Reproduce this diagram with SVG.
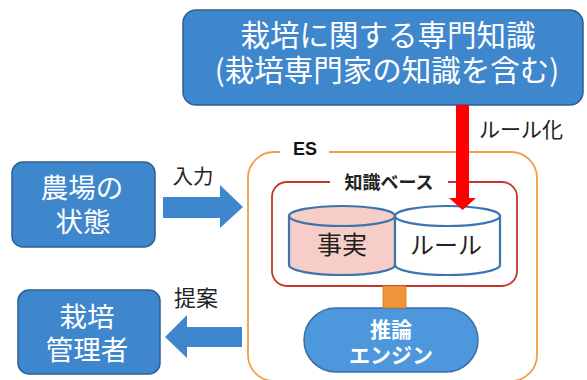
<svg xmlns="http://www.w3.org/2000/svg" width="587" height="380" viewBox="0 0 587 380">
<style>
.box{fill:#3F87CD;stroke:#2F5E94;stroke-width:1.5}
.wt{fill:#fff;font-family:"Noto Sans CJK JP","Noto Sans",sans-serif;text-anchor:middle}
.bt{fill:#222;font-family:"Noto Sans CJK JP","Noto Sans",sans-serif;text-anchor:middle}
.cyl{stroke:#3B74AE;stroke-width:2.2}
.arr{fill:#3F87CD}
</style>
<rect width="587" height="380" fill="#fff"/>
<g id="knowledge-source">
<rect class="box" x="183" y="10" width="400" height="95" rx="13"/>
<text class="wt" x="388" y="46" font-size="29.5">栽培に関する専門知識</text>
<text class="wt" x="387" y="81" font-size="29.5">(栽培専門家の知識を含む)</text>
</g>
<g id="es">
<rect x="248" y="152" width="289" height="229" rx="26" fill="none" stroke="#F59D45" stroke-width="1.8"/>
<rect x="280" y="140" width="49" height="20" fill="#fff"/>
<text x="305" y="155" font-size="18" font-weight="bold" font-family="Liberation Sans,Arial,sans-serif" text-anchor="middle" fill="#111">ES</text>
</g>
<g id="knowledge-base">
<rect x="272" y="182" width="245" height="104" rx="15" fill="none" stroke="#C4372D" stroke-width="1.8"/>
<rect x="330" y="172" width="118" height="20" fill="#fff"/>
<text class="bt" x="389" y="188.5" font-size="18" font-weight="bold">知識ベース</text>
</g>
<g id="facts">
<path class="cyl" d="M289,216 V265 A53,10 0 0 0 395,265 V216 Z" fill="#F6CDC7"/>
<ellipse class="cyl" cx="342" cy="216" rx="53" ry="10" fill="#F6CDC7"/>
<text class="bt" x="342" y="254" font-size="25">事実</text>
</g>
<g id="rules">
<path class="cyl" d="M395,216 V265 A52.5,10 0 0 0 500,265 V216 Z" fill="#fff"/>
<ellipse class="cyl" cx="447.5" cy="216" rx="52.5" ry="10" fill="#fff"/>
<text class="bt" x="446" y="254" font-size="24">ルール</text>
</g>
<g id="engine">
<rect x="304" y="308" width="174" height="64" rx="32" fill="#4D98DC" stroke="#3A6FA6" stroke-width="1.5"/>
<text class="wt" x="391" y="337" font-size="21" font-weight="bold">推論</text>
<text class="wt" x="391" y="363" font-size="21" font-weight="bold">エンジン</text>
</g>
<g id="farm-state">
<rect class="box" x="12" y="162" width="143" height="85" rx="11"/>
<text class="wt" x="82" y="198" font-size="27.5">農場の</text>
<text class="wt" x="83" y="232" font-size="27.5">状態</text>
</g>
<g id="manager">
<rect class="box" x="18" y="290" width="142" height="84" rx="11"/>
<text class="wt" x="87" y="327" font-size="27.5">栽培</text>
<text class="wt" x="87" y="360" font-size="27.5">管理者</text>
</g>
<g id="connectors">
<polygon fill="#FF0000" points="456,105 469,105 469,198 476,198 462.5,210 449,198 456,198"/>
<text class="bt" x="521" y="137" font-size="21" fill="#222">ルール化</text>
<rect x="383" y="286" width="23" height="22" fill="#F0953A" stroke="#C77A2C" stroke-width="0.8"/>
<polygon class="arr" points="163,197 220,197 220,185 243,207 220,228 220,218 163,218"/>
<text class="bt" x="193" y="184" font-size="20.5">入力</text>
<polygon class="arr" points="242,327 187,327 187,315 165,337 187,358 187,347 242,347"/>
<text class="bt" x="196" y="306" font-size="22">提案</text>
</g>
</svg>
